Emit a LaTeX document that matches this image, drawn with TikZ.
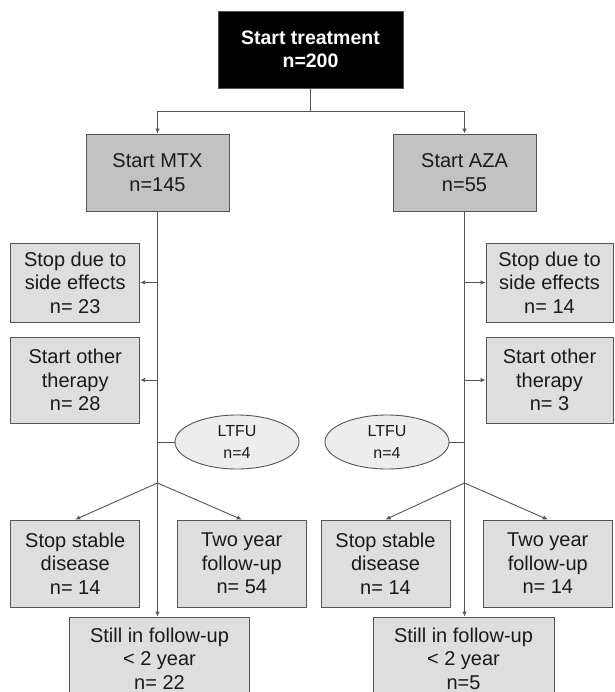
\documentclass[tikz,border=0pt]{standalone}
\usepackage{fontspec}
\setmainfont{Liberation Sans}
\usetikzlibrary{shapes.geometric,arrows.meta}
\definecolor{linec}{HTML}{555555}
\definecolor{mainfill}{HTML}{C2C2C2}
\definecolor{subfill}{HTML}{DEDEDE}
\definecolor{ellfill}{HTML}{EDEDED}
\definecolor{textc}{HTML}{1A1A1A}
\tikzset{
  boxbase/.style={draw=linec, line width=0.9pt, align=center, inner sep=0pt, text=textc,
    font=\fontsize{20}{23.5}\selectfont},
  topbox/.style={boxbase, fill=black, draw=linec, text=white,
    font=\bfseries\fontsize{19.5}{23.5}\selectfont, minimum width=185pt, minimum height=77pt},
  mainbox/.style={boxbase, fill=mainfill, minimum width=143pt, minimum height=77pt},
  subbox/.style={boxbase, fill=subfill},
  ltfubox/.style={ellipse, draw=linec, line width=0.9pt, fill=ellfill, inner sep=0pt,
    minimum width=124pt, minimum height=54pt, align=center, text=textc,
    font=\fontsize{16}{21.5}\selectfont},
  conn/.style={draw=linec, line width=0.9pt},
  arr/.style={conn, -{Latex[length=5pt,width=4.5pt]}}
}
\begin{document}
\begin{tikzpicture}[x=1pt,y=-1pt]
\useasboundingbox (0,0) rectangle (614,692);
\clip (0,0) rectangle (614,692);
\fill[white] (0,0) rectangle (614,692);

\node[topbox] (top) at (310.5,49.5) {Start treatment\\n=200};
\node[mainbox] (mtx) at (157.5,172.5) {Start MTX\\n=145};
\node[mainbox] (aza) at (464.5,172.5) {Start AZA\\n=55};

\node[subbox, minimum width=129pt, minimum height=79pt] (sdL) at (75.2,282.5) {Stop due to\\side effects\\n= 23};
\node[subbox, minimum width=129pt, minimum height=86pt] (soL) at (75.2,380) {Start other\\therapy\\n= 28};
\node[subbox, minimum width=127pt, minimum height=79pt] (sdR) at (549.5,282.5) {Stop due to\\side effects\\n= 14};
\node[subbox, minimum width=127pt, minimum height=86pt] (soR) at (549.5,380) {Start other\\therapy\\n= 3};

\node[ltfubox] (ltL) at (237,442) {LTFU\\n=4};
\node[ltfubox] (ltR) at (387,442) {LTFU\\n=4};

\node[subbox, minimum width=129pt, minimum height=87pt] (ssL) at (75.2,563.5) {Stop stable\\disease\\n= 14};
\node[subbox, minimum width=129.6pt, minimum height=87pt] (tyL) at (241.8,563.5) {Two year\\follow-up\\n= 54};
\node[subbox, minimum width=129pt, minimum height=87pt] (ssR) at (385.5,563.5) {Stop stable\\disease\\n= 14};
\node[subbox, minimum width=128.4pt, minimum height=87pt] (tyR) at (547.8,563.5) {Two year\\follow-up\\n= 14};

\node[subbox, minimum width=180pt, minimum height=83pt] (stL) at (159.5,658.5) {Still in follow-up\\< 2 year\\n= 22};
\node[subbox, minimum width=181pt, minimum height=83pt] (stR) at (463.5,658.5) {Still in follow-up\\< 2 year\\n=5};

% top split
\draw[conn] (top.south) -- ++(0,22.7) coordinate (split);
\draw[arr] (split) -| (mtx.north);
\draw[arr] (split) -| (aza.north);

% main vertical lines
\draw[arr] (mtx.south) -- (mtx.south |- stL.north);
\draw[arr] (aza.south) -- (aza.south |- stR.north);

% side arrows
\draw[arr] (mtx.south |- sdL.east) -- (sdL.east);
\draw[arr] (mtx.south |- soL.east) -- (soL.east);
\draw[arr] (aza.south |- sdR.west) -- (sdR.west);
\draw[arr] (aza.south |- soR.west) -- (soR.west);

% LTFU
\draw[conn] (mtx.south |- ltL.west) -- (ltL.west);
\draw[conn] (aza.south |- ltR.east) -- (ltR.east);

% branches
\coordinate (brL) at (157.5,483);
\coordinate (brR) at (464.5,483);
\draw[arr] (brL) -- (ssL.north);
\draw[arr] (brL) -- (tyL.north);
\draw[arr] (brR) -- (ssR.north);
\draw[arr] (brR) -- (tyR.north);
\end{tikzpicture}
\end{document}
